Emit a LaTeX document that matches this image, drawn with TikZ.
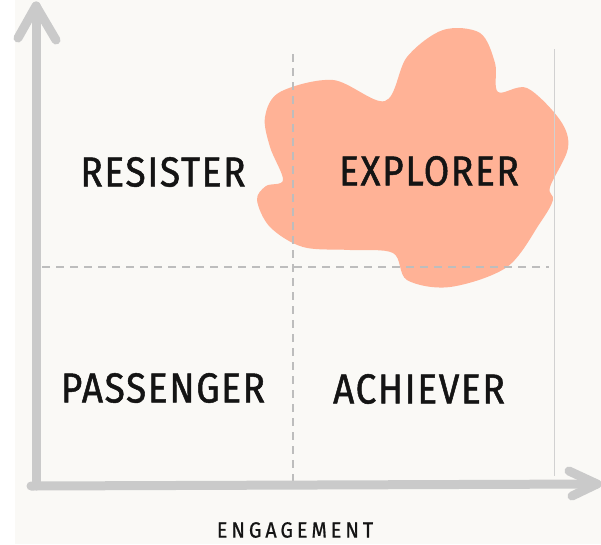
\documentclass[tikz,border=0pt]{standalone}
\usepackage{fontspec}
\newfontfamily\handfont[FakeStretch=0.88,LetterSpace=4,FakeBold=1.2]{Fira Sans}
\newfontfamily\smallhandfont[FakeStretch=0.9,LetterSpace=18,FakeBold=0.8]{Fira Sans}
\definecolor{paper}{HTML}{FAF9F6}
\definecolor{axisgray}{HTML}{CACACA}
\definecolor{dashgray}{HTML}{BDBDBD}
\definecolor{salmon}{HTML}{FFB296}

\begin{document}
\begin{tikzpicture}
[x=1pt,y=-1pt,
axis/.style={line width=9pt,axisgray,line cap=round,line join=round},
grid/.style={line width=1.4pt,dashgray,dash pattern=on 8pt off 6pt},
edge/.style={line width=1pt,black!18},
blob/.style={fill=salmon},
quadrant/.style={font=\handfont\fontsize{42}{42}\selectfont,text=black!92},
axislabel/.style={font=\smallhandfont\fontsize{22}{22}\selectfont,text=black!92,inner sep=1pt}]

\useasboundingbox (0,0) rectangle (601,544);
\fill[paper] (14.5,0) rectangle (601,544);

%the highlighted quadrant
\fill[blob] plot[smooth cycle,tension=0.55] coordinates {
(280,92) (333,80) (385,101) (407,57) (443,30) (480,33) (495,63) (498,92)
(527,88) (560,120) (568,148) (550,187) (553,200) (540,223) (507,267)
(450,287) (407,280) (393,253) (350,250) (303,247) (270,227) (257,200)
(266,186) (283,180) (270,147) (265,117)};

%axes corners and tips
\coordinate (origin) at (36,486);
\coordinate (ytip) at (36,6);
\coordinate (xtip) at (597,484);
\coordinate (ywingl) at (18,38);
\coordinate (ywingr) at (56,40);
\coordinate (xwingt) at (569,471);
\coordinate (xwingb) at (572,496);

%quadrant lines
\coordinate (vtop) at (293,54);
\coordinate (vbot) at (293,481);
\coordinate (hleft) at (42,267);
\coordinate (hright) at (549,267);
\coordinate (etop) at (554,49);
\coordinate (ebot) at (554,476);

\draw[edge] (etop) -- (ebot);
\draw[grid] (vtop) -- (vbot);
\draw[grid] (hleft) -- (hright);

%draw the axes
\draw[axis] (origin) -- (ytip);
\draw[axis] (ywingl) -- (ytip) -- (ywingr);
\draw[axis] (31,486) -- (xtip);
\draw[axis] (xwingt) -- (xtip) -- (xwingb);

%quadrant names
\node[quadrant] (resister) at (163,172) {RESISTER};
\node[quadrant] (explorer) at (429,171) {EXPLORER};
\node[quadrant] (passenger) at (163,388) {PASSENGER};
\node[quadrant] (achiever) at (419,389) {ACHIEVER};
\node[axislabel] (engagement) at (295,530) {ENGAGEMENT};

\end{tikzpicture}
\end{document}
